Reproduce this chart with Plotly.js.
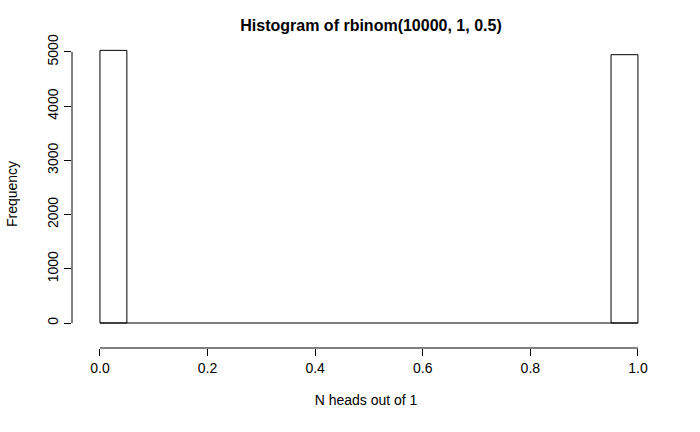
<!DOCTYPE html>
<html><head><script src="https://cdn.plot.ly/plotly-3.0.1.min.js"></script></head>
<body style="margin:0"><div id="c" style="width:700px;height:432px"></div>
<script>
const binStarts = [0,0.05,0.1,0.15,0.2,0.25,0.3,0.35,0.4,0.45,0.5,0.55,0.6,0.65,0.7,0.75,0.8,0.85,0.9,0.95];
const counts = [5030,0,0,0,0,0,0,0,0,0,0,0,0,0,0,0,0,0,0,4950];
const xTicks = [0,0.2,0.4,0.6,0.8,1.0];
const xTickLabels = ["0.0","0.2","0.4","0.6","0.8","1.0"];
const yTicks = [0,1000,2000,3000,4000,5000];
const binW = 0.05;
const F = "Liberation Sans, Arial, sans-serif";
const nz = counts.map((c,i)=>c>0);
const traces = [
 {type:'scatter',mode:'lines',x:[binStarts[0],binStarts[binStarts.length-1]+binW],y:[0,0],line:{color:'black',width:1},hoverinfo:'skip'},
 {type:'bar',x:binStarts.filter((b,i)=>nz[i]).map(b=>b+binW/2),y:counts.filter((c,i)=>nz[i]),width:binW,marker:{color:'white',line:{color:'black',width:1}}}
];
const layout = {
 width:700,height:432,showlegend:false,plot_bgcolor:'white',paper_bgcolor:'white',
 margin:{l:72,r:40,t:40,b:84},
 title:{text:'<b>Histogram of rbinom(10000, 1, 0.5)</b>',font:{family:F,size:16,color:'black'},x:0.53,xanchor:'center',y:0.955},
 xaxis:{range:[-0.052,1.041],tickvals:xTicks,ticktext:xTickLabels,ticks:'outside',ticklen:7,tickcolor:'black',showgrid:false,zeroline:false,showline:false,tickfont:{family:F,size:14,color:'black'},title:{text:'N heads out of 1',font:{family:F,size:14,color:'black'},standoff:20}},
 yaxis:{range:[-461,5221],tickvals:yTicks,ticks:'outside',ticklen:7,tickcolor:'black',tickangle:-90,showgrid:false,zeroline:false,showline:false,tickfont:{family:F,size:14,color:'black'},title:{text:'Frequency',font:{family:F,size:14,color:'black'},standoff:24}},
 shapes:[
  {type:'line',xref:'x',yref:'paper',x0:xTicks[0],x1:xTicks[xTicks.length-1],y0:0,y1:0,line:{color:'black',width:1}},
  {type:'line',xref:'paper',yref:'y',x0:0,x1:0,y0:yTicks[0],y1:yTicks[yTicks.length-1],line:{color:'black',width:1}}
 ]
};
Plotly.newPlot('c',traces,layout,{displayModeBar:false});
</script></body></html>
